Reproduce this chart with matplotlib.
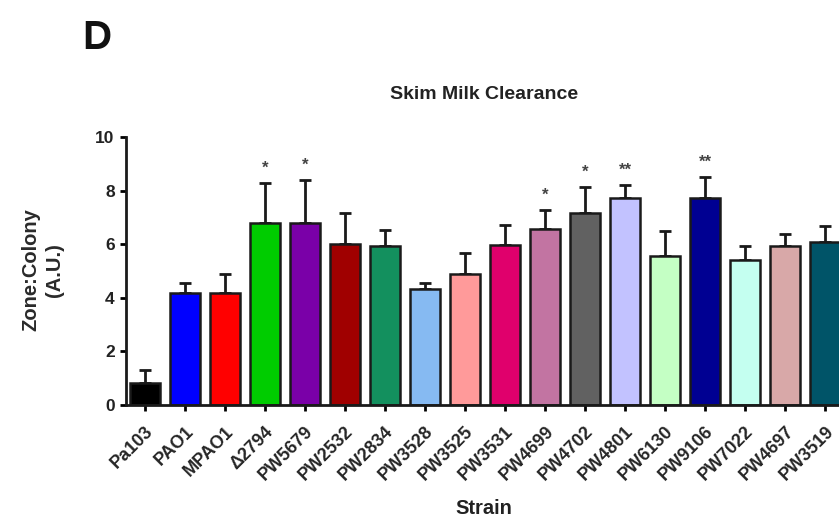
import matplotlib
matplotlib.use('Agg')
import matplotlib.pyplot as plt
import matplotlib.transforms as mtransforms

# strains and their skim milk clearance (zone:colony), mean and upper error
strains = ['Pa103', 'PAO1', 'MPAO1', '\u03942794', 'PW5679', 'PW2532', 'PW2834',
           'PW3528', 'PW3525', 'PW3531', 'PW4699', 'PW4702', 'PW4801', 'PW6130',
           'PW9106', 'PW7022', 'PW4697', 'PW3519']
means = [0.81, 4.2, 4.2, 6.78, 6.8, 6.0, 5.95, 4.32, 4.89, 5.97, 6.56, 7.15,
         7.71, 5.56, 7.71, 5.4, 5.93, 6.09]
errors = [0.49, 0.36, 0.69, 1.49, 1.6, 1.18, 0.6, 0.22, 0.78, 0.75, 0.72, 1.0,
          0.5, 0.93, 0.81, 0.55, 0.44, 0.6]
stars = ['', '', '', '*', '*', '', '', '', '', '', '*', '*', '**', '', '**', '', '', '']
colors = ['#000000', '#0000ff', '#ff0000', '#00cc00', '#7a00a8', '#a00000', '#13905e',
          '#86baf2', '#ff9a9a', '#e0006c', '#c274a2', '#616161', '#c2c2ff', '#c4ffc4',
          '#000092', '#c4fff0', '#d8a8a8', '#005468']

plt.rcParams['font.family'] = 'Liberation Sans'
plt.rcParams['font.weight'] = 'bold'
plt.rcParams['text.color'] = '#222222'

fig = plt.figure(figsize=(8.39, 5.18), dpi=100)
ax = fig.add_axes([0.150, 0.218, 0.85, 0.5174])

x = list(range(len(strains)))
ax.bar(x, means, width=0.74, color=colors, edgecolor='#1a1a1a', linewidth=1.8, zorder=2)
ax.errorbar(x, means, yerr=[[0] * len(means), errors], fmt='none', ecolor='#1a1a1a',
            elinewidth=2, capsize=4.5, capthick=2, zorder=1)

# significance marks above the error bars
for xi, m, e, s in zip(x, means, errors, stars):
    if s:
        ax.text(xi, m + e + 0.55, s, ha='center', va='center', fontsize=12, color='#444444')

ax.set_xlim(-0.475, 17.35)
ax.set_ylim(0, 10)
ax.set_yticks([0, 2, 4, 6, 8, 10])
ax.set_xticks(x)
ax.set_xticklabels(strains, rotation=45, ha='right', va='top', rotation_mode='anchor',
                   fontsize=13, color='#262626')
shift = mtransforms.ScaledTranslation(4 / 100, 0, fig.dpi_scale_trans)
for lab in ax.get_xticklabels():
    lab.set_transform(lab.get_transform() + shift)
ax.tick_params(axis='y', labelsize=12.5, width=2, length=4, pad=4, labelcolor='#222222')
ax.tick_params(axis='x', width=2, length=4, pad=9)
for side in ['top', 'right']:
    ax.spines[side].set_visible(False)
for side in ['left', 'bottom']:
    ax.spines[side].set_linewidth(2)
    ax.spines[side].set_color('#1a1a1a')

fig.text(0.0507, 0.479, 'Zone:Colony\n(A.U.)', rotation=90, ha='center', va='center',
         fontsize=14.5, fontweight='bold', linespacing=1.3, color='#2a2a2a')
fig.text(0.577, 0.019, 'Strain', ha='center', va='center', fontsize=14.5, fontweight='bold')
fig.text(0.577, 0.817, 'Skim Milk Clearance', ha='center', va='center', fontsize=14,
         fontweight='bold')
fig.text(0.1156, 0.927, 'D', ha='center', va='center', fontsize=29, fontweight='bold',
         color='#111111')

fig.savefig('out.png', dpi=100)
